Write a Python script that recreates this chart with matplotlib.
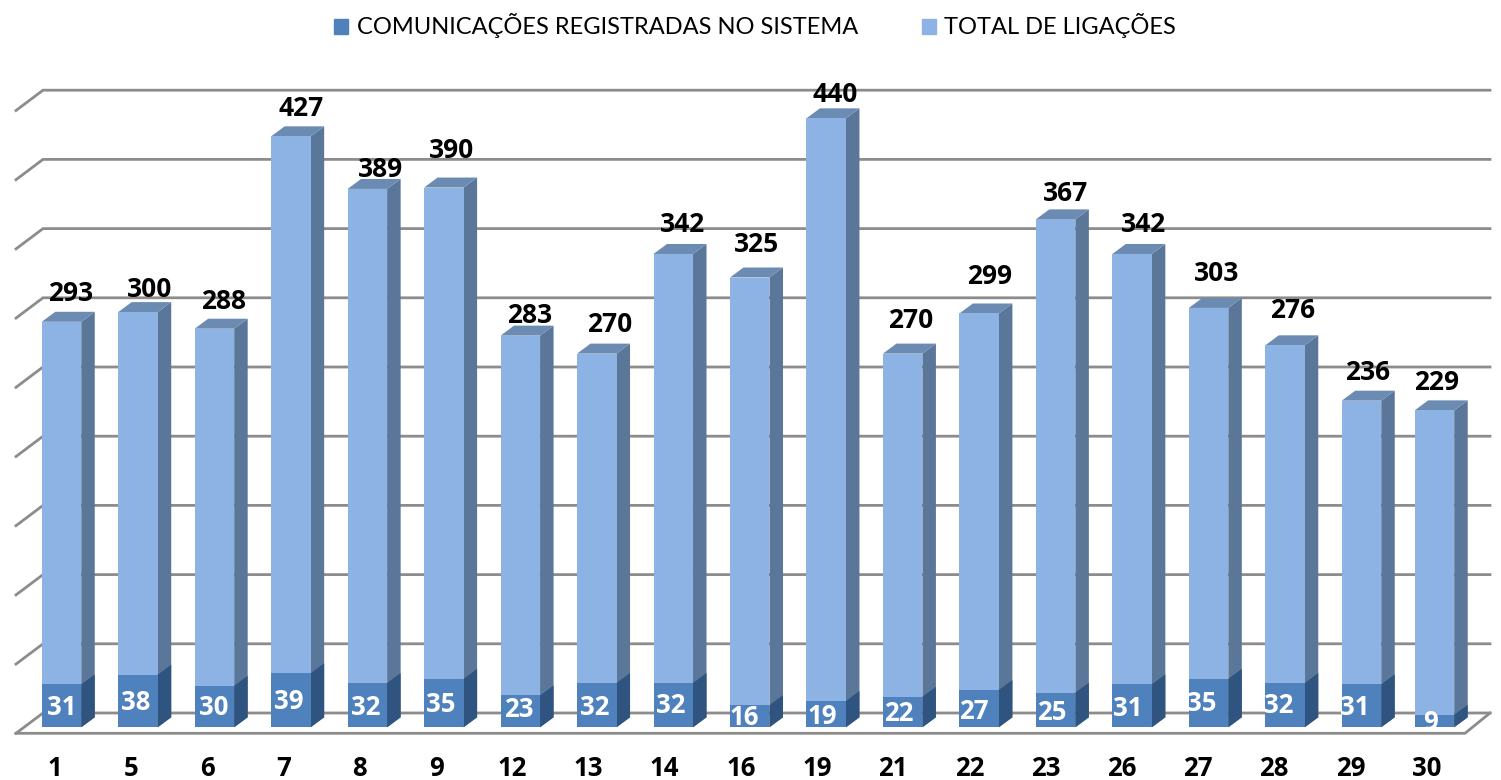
import matplotlib
matplotlib.use('Agg')
import matplotlib.pyplot as plt
from matplotlib.patches import Polygon, Patch

plt.rcParams['font.family'] = ['Lato', 'DejaVu Sans']

dias = ['1', '5', '6', '7', '8', '9', '12', '13', '14', '16', '19', '21', '22', '23', '26', '27', '28', '29', '30']
total_ligacoes = [293, 300, 288, 427, 389, 390, 283, 270, 342, 325, 440, 270, 299, 367, 342, 303, 276, 236, 229]
comunicacoes = [31, 38, 30, 39, 32, 35, 23, 32, 32, 16, 19, 22, 27, 25, 31, 35, 32, 31, 9]
linhas_grade = [0, 50, 100, 150, 200, 250, 300, 350, 400, 450]

# hand placed labels in the original, (dx, dy) in pixels from the front top centre of the bar
off_total = [(9, 29), (12, 24), (9, 28), (10, 29), (13, 20), (8, 38), (9, 21), (13, 30), (9, 30), (7, 34),
             (9, 25), (8, 34), (10, 38), (10, 27), (11, 30), (8, 35), (8, 36), (6, 29), (2, 29)]
off_com = [(0, 20), (-2, 25), (-1, 20), (-2, 26), (-2, 20), (-3, 23), (-2, 18), (-2, 20), (-3, 22), (-5, 10),
           (-4, 11), (-4, 14), (-5, 16), (-4, 15), (-4, 19), (-7, 24), (-6, 22), (-7, 20), (-4, 5)]

# pixels per unit
PX = 76.47
PY = 1.384
X0 = 61.5
Y0 = 727.3
LARG = 39.5 / PX
PROF_X = 13.5 / PX
PROF_Y = 10 / PY

fig = plt.figure(figsize=(15.01, 7.80), dpi=100)
ax = fig.add_axes([0, 0, 1, 1])
ax.set_xlim(-X0 / PX, (1501 - X0) / PX)
ax.set_ylim((Y0 - 780) / PY, Y0 / PY)
ax.axis('off')

xesq = (43 - X0) / PX
xesq_f = (16 - X0) / PX
xdir = (1490 - X0) / PX
xdir_f = (1465 - X0) / PX
fundo = 14.3 / PY
frente = -6 / PY
cor_grade = '#8c8c8c'

for v in linhas_grade:
    ax.plot([xesq_f, xesq, xdir], [v + frente, v + fundo, v + fundo], color=cor_grade, lw=2.0, zorder=1,
            solid_joinstyle='miter')
ax.plot([xesq_f, xdir_f, xdir], [frente, frente, fundo], color=cor_grade, lw=2.0, zorder=1)


def barra(x, v, frente_c, lado_c, topo_c, z):
    x1 = x - LARG / 2
    x2 = x + LARG / 2
    ax.bar(x, v, width=LARG, color=frente_c, zorder=z + 0.2)
    ax.add_patch(Polygon([(x2, 0), (x2 + PROF_X, PROF_Y), (x2 + PROF_X, v + PROF_Y), (x2, v)],
                         color=lado_c, lw=0, zorder=z))
    if topo_c:
        ax.add_patch(Polygon([(x1, v), (x1 + PROF_X, v + PROF_Y), (x2 + PROF_X, v + PROF_Y), (x2, v)],
                             color=topo_c, lw=0, zorder=z))


for i in range(len(dias)):
    # the last column sits a bit closer to its neighbour in the original
    x = i - 3.5 / PX if i == len(dias) - 1 else i
    barra(x, total_ligacoes[i], '#8cb3e3', '#5a7698', '#6c8bb2', 2)
    barra(x, comunicacoes[i], '#4f81bd', '#2f5480', None, 3)

    dx, dy = off_total[i]
    ax.annotate(str(total_ligacoes[i]), (x, total_ligacoes[i]), xytext=(dx, dy - 1), textcoords='offset pixels',
                ha='center', va='center', fontsize=19, fontweight='bold', family='Open Sans', color='black', zorder=5)
    ax.annotate(str(comunicacoes[i]), (x, 0), xytext=off_com[i], textcoords='offset pixels',
                ha='center', va='center', fontsize=18.5, fontweight='bold', family='Open Sans', color='white', zorder=5)
    # day labels have their own spacing, slightly tighter than the columns
    ax.text((55 - X0 + 76.2 * i) / PX, (Y0 - 768) / PY, dias[i], ha='center', va='center', fontsize=18.5,
            fontweight='bold', family='Open Sans', color='black')

handles = [Patch(color='#4f81bd', label='COMUNICAÇÕES REGISTRADAS NO SISTEMA'),
           Patch(color='#8cb3e3', label='TOTAL DE LIGAÇÕES')]
fig.legend(handles=handles, loc='center', bbox_to_anchor=(755 / 1501, 1 - 26 / 780), ncol=2, frameon=False,
           fontsize=17, handlelength=0.62, handleheight=0.62, handletextpad=0.35, columnspacing=2.7)

fig.savefig('out.png', dpi=100)
